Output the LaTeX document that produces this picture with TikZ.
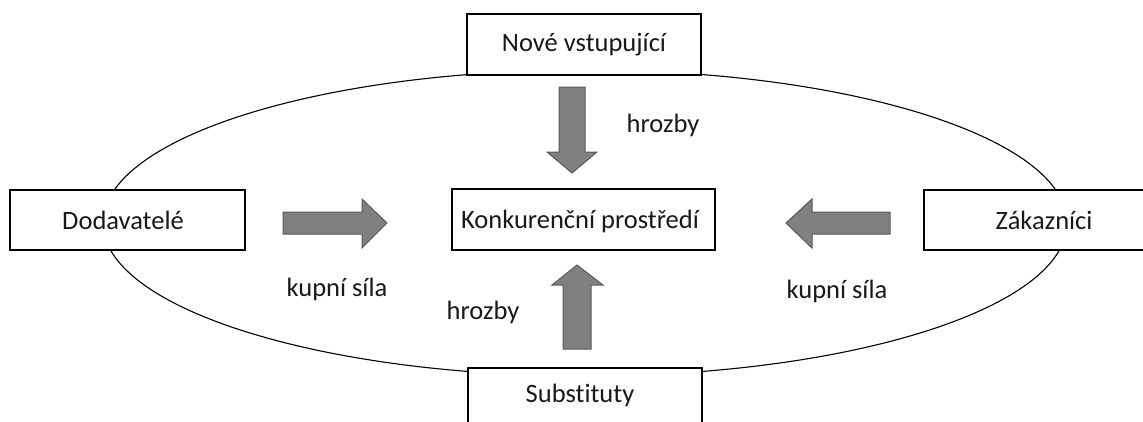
\documentclass[tikz,border=0pt]{standalone}
\usepackage{fontspec}
\setmainfont{Carlito}[Ligatures=NoCommon]
\begin{document}
\begin{tikzpicture}[x=1pt,y=-1pt,
  boxnode/.style={draw=black, line width=1.3pt, fill=white, inner sep=0pt},
  lbl/.style={font=\fontsize{26.5}{30}\selectfont, text=black!90},
  blockarrow/.style={fill=black!50, draw=black!65, line width=1pt, line join=miter}]
\useasboundingbox (0,0) rectangle (1143,421);
\fill[white] (0,0) rectangle (1143,421);
% ellipse
\draw[line width=1.1pt] (585,223) ellipse [x radius=482, y radius=153];
% boxes
\node[boxnode, minimum width=234, minimum height=61] (nove) at (584,44.5) {};
\node[lbl] at (nove.center) {Nové vstupující};
\node[boxnode, minimum width=235, minimum height=60] (dod) at (127.5,220) {};
\node[lbl] at (123,220) {Dodavatelé};
\node[boxnode, minimum width=240, minimum height=60] (zak) at (1044,220) {};
\node[lbl] at (zak.center) {Zákazníci};
\node[boxnode, minimum width=234, minimum height=70] (sub) at (585,403) {};
\node[lbl] at (580,395) {Substituty};
\node[boxnode, minimum width=263, minimum height=61] (konk) at (583.5,219.5) {};
\node[lbl] at (580,221) {Konkurenční prostředí};
% block arrows
\draw[blockarrow] (283,212) -- (362,212) -- (362,199) -- (387,223) -- (362,248) -- (362,234) -- (283,234) -- cycle;
\draw[blockarrow] (890,212) -- (812,212) -- (812,199) -- (786,223) -- (812,248) -- (812,234) -- (890,234) -- cycle;
\draw[blockarrow] (559,87) -- (585,87) -- (585,152) -- (597,152) -- (572,173) -- (547,152) -- (559,152) -- cycle;
\draw[blockarrow] (563,349) -- (591,349) -- (591,285) -- (603,285) -- (577,265) -- (552,285) -- (563,285) -- cycle;
% labels
\node[lbl] (h1) at (663,125) {hrozby};
\node[lbl] (h2) at (483,312) {hrozby};
\node[lbl] (k1) at (337,289) {kupní síla};
\node[lbl] (k2) at (837,291) {kupní síla};
\end{tikzpicture}
\end{document}
